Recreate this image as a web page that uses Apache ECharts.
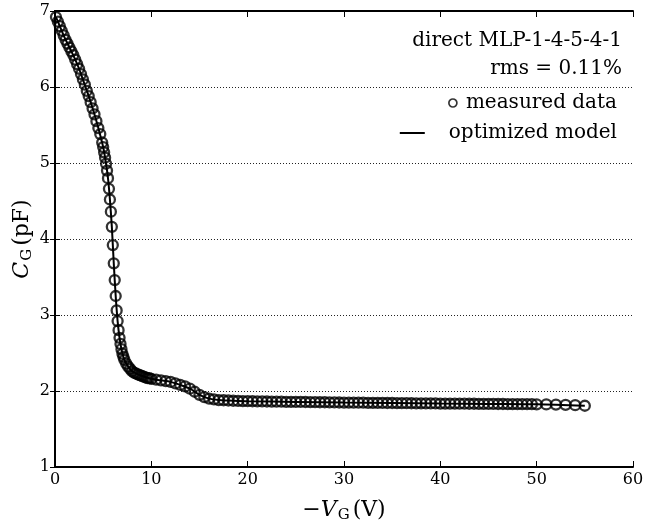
<!DOCTYPE html>
<html>
<head>
<meta charset="utf-8">
<script src="https://cdn.jsdelivr.net/npm/echarts@6/dist/echarts.min.js"></script>
<style>
  html, body { margin: 0; padding: 0; background: #fff; }
  #chart { width: 646px; height: 524px; }
</style>
</head>
<body>
<div id="chart"></div>
<script>
// measured C-V points
const measuredV = [
  0.1, 0.3, 0.5, 0.7, 0.9, 1.1, 1.3, 1.5, 1.7, 1.9, 2.1, 2.3, 2.5, 2.7, 2.9,
  3.1, 3.3, 3.5, 3.7, 3.9, 4.1, 4.3, 4.5, 4.7, 4.9,
  5.0, 5.1, 5.2, 5.3, 5.4, 5.5, 5.6, 5.7, 5.8, 5.9, 6.0, 6.1, 6.2, 6.3, 6.4,
  6.5, 6.6, 6.7, 6.8, 6.9, 7.0, 7.1, 7.2, 7.4, 7.6, 7.8, 8.0, 8.2, 8.4, 8.6,
  8.8, 9.0, 9.2, 9.4, 9.6, 9.8,
  10, 10.5, 11, 11.5, 12, 12.5, 13, 13.5, 14, 14.5, 15, 15.5, 16, 16.5, 17,
  17.5, 18, 18.5, 19, 19.5, 20, 20.5, 21, 21.5, 22, 22.5, 23, 23.5, 24, 24.5,
  25, 25.5, 26, 26.5, 27, 27.5, 28, 28.5, 29, 29.5, 30, 30.5, 31, 31.5, 32,
  32.5, 33, 33.5, 34, 34.5, 35, 35.5, 36, 36.5, 37, 37.5, 38, 38.5, 39, 39.5,
  40, 40.5, 41, 41.5, 42, 42.5, 43, 43.5, 44, 44.5, 45, 45.5, 46, 46.5, 47,
  47.5, 48, 48.5, 49, 49.5, 50,
  51, 52, 53, 54, 55
];
const measuredC = [
  6.92, 6.86, 6.80, 6.74, 6.68, 6.62, 6.57, 6.52, 6.47, 6.42, 6.36, 6.30, 6.24, 6.17, 6.10,
  6.03, 5.95, 5.88, 5.80, 5.72, 5.64, 5.55, 5.46, 5.38, 5.27,
  5.21, 5.14, 5.07, 4.99, 4.90, 4.80, 4.66, 4.52, 4.36, 4.16, 3.92, 3.68, 3.46, 3.25, 3.06,
  2.92, 2.80, 2.70, 2.62, 2.55, 2.49, 2.45, 2.41, 2.36, 2.32, 2.29, 2.26, 2.24, 2.23, 2.22,
  2.21, 2.20, 2.19, 2.18, 2.17, 2.17,
  2.16, 2.15, 2.14, 2.13, 2.12, 2.10, 2.08, 2.06, 2.03, 1.99, 1.95, 1.92, 1.90, 1.89, 1.88,
  1.878, 1.875, 1.872, 1.870, 1.868, 1.866, 1.865, 1.864, 1.863, 1.862, 1.861, 1.860, 1.859, 1.858, 1.857,
  1.856, 1.856, 1.855, 1.854, 1.853, 1.852, 1.852, 1.851, 1.850, 1.849, 1.848, 1.848, 1.847, 1.846, 1.846,
  1.845, 1.844, 1.844, 1.843, 1.842, 1.842, 1.841, 1.840, 1.840, 1.839, 1.838, 1.838, 1.837, 1.837, 1.836,
  1.835, 1.835, 1.834, 1.834, 1.833, 1.833, 1.832, 1.832, 1.831, 1.831, 1.830, 1.830, 1.829, 1.829, 1.828,
  1.828, 1.827, 1.827, 1.826, 1.826, 1.825,
  1.823, 1.821, 1.818, 1.814, 1.806
];

// optimized model curve
const modelV = [0.1, 0.5, 1, 1.5, 2, 2.5, 3, 3.5, 4, 4.5, 5, 5.3, 5.5, 5.7, 5.9, 6.1, 6.3, 6.5,
  6.7, 6.9, 7.2, 7.6, 8, 9, 10, 11, 12, 13, 14, 15, 16, 17, 18, 20, 25, 30, 35, 40, 45, 50, 55];
const modelC = [6.92, 6.80, 6.65, 6.52, 6.39, 6.24, 6.06, 5.88, 5.68, 5.46, 5.21, 4.99, 4.80, 4.52,
  4.16, 3.68, 3.25, 2.92, 2.70, 2.55, 2.41, 2.32, 2.26, 2.20, 2.16, 2.14, 2.12, 2.08, 2.03, 1.95,
  1.90, 1.88, 1.875, 1.866, 1.856, 1.848, 1.842, 1.835, 1.830, 1.825, 1.806];

const xTicks = { min: 0, max: 60, step: 10 };
const yTicks = { min: 1, max: 7, step: 1 };

const seriesNames = ['measured data', 'optimized model'];
const infoText = ['direct MLP-1-4-5-4-1', 'rms = 0.11%'];

const FONT = '"DejaVu Serif", "Liberation Serif", serif';
const INK = '#000';

const zip = (xs, ys) => xs.map((x, i) => [x, ys[i]]);

const nameRich = {
  i: { fontFamily: FONT, fontSize: 22, fontStyle: 'italic', color: INK },
  s: { fontFamily: FONT, fontSize: 15, color: INK, padding: [11, 3, 0, 1] },
  n: { fontFamily: FONT, fontSize: 22, color: INK }
};

const xAxisBase = {
  type: 'value',
  min: xTicks.min,
  max: xTicks.max,
  interval: xTicks.step,
  axisLine: { show: true, lineStyle: { color: INK, width: 2 } },
  axisTick: { show: true, inside: true, length: 6, lineStyle: { color: INK, width: 1 } },
  splitLine: { show: false }
};

const yAxisBase = {
  type: 'value',
  min: yTicks.min,
  max: yTicks.max,
  interval: yTicks.step,
  axisLine: { show: true, lineStyle: { color: INK, width: 2 } },
  axisTick: { show: true, inside: true, length: 5, lineStyle: { color: INK, width: 1 } }
};

const legendText = { fontFamily: FONT, fontSize: 20, color: INK };

const chart = echarts.init(document.getElementById('chart'), null, { renderer: 'canvas' });

chart.setOption({
  backgroundColor: '#fff',
  animation: false,
  grid: { left: 55, right: 13, top: 11, bottom: 57, outerBoundsMode: 'none', containLabel: false },
  xAxis: [
    Object.assign({}, xAxisBase, {
      position: 'bottom',
      axisLabel: { color: INK, fontFamily: FONT, fontSize: 16, margin: 5 },
      name: '{n|\u2212}{i|V}{s|G}{n|(V)}',
      nameLocation: 'middle',
      nameGap: 30,
      nameTextStyle: { rich: nameRich }
    }),
    Object.assign({}, xAxisBase, {
      position: 'top',
      axisLabel: { show: false }
    })
  ],
  yAxis: [
    Object.assign({}, yAxisBase, {
      position: 'left',
      axisLabel: { color: INK, fontFamily: FONT, fontSize: 16, margin: 5 },
      splitLine: { show: true, lineStyle: { color: '#222', width: 1, type: [1, 2] } },
      name: '{i|C}{s|G}{n|(pF)}',
      nameLocation: 'middle',
      nameRotate: 90,
      nameGap: 20,
      nameMoveOverlap: false,
      nameTextStyle: { rich: nameRich }
    }),
    Object.assign({}, yAxisBase, {
      position: 'right',
      axisLabel: { show: false },
      splitLine: { show: false }
    })
  ],
  legend: [
    {
      right: 24,
      top: 88,
      itemWidth: 8,
      itemHeight: 8,
      textStyle: Object.assign({ padding: [0, 0, 0, 4] }, legendText),
      data: [{ name: seriesNames[0], icon: 'circle',
        itemStyle: { color: 'transparent', borderColor: INK, borderWidth: 1.7 } }]
    },
    {
      right: 24,
      top: 118,
      itemWidth: 25,
      itemHeight: 10,
      symbolKeepAspect: true,
      textStyle: Object.assign({ padding: [0, 0, 0, 19] }, legendText),
      data: [{ name: seriesNames[1], icon: 'path://M0,0L25,0L25,2L0,2Z',
        itemStyle: { color: INK } }]
    }
  ],
  graphic: [
    {
      type: 'text',
      right: 24,
      top: 31,
      style: { text: infoText[0], font: '20px ' + FONT, fill: INK }
    },
    {
      type: 'text',
      right: 24,
      top: 59,
      style: { text: infoText[1], font: '20px ' + FONT, fill: INK }
    }
  ],
  series: [
    {
      name: seriesNames[1],
      type: 'line',
      data: zip(modelV, modelC),
      smooth: 0.3,
      showSymbol: false,
      symbol: 'none',
      lineStyle: { color: INK, width: 2 },
      itemStyle: { color: INK },
      z: 2
    },
    {
      name: seriesNames[0],
      type: 'scatter',
      data: zip(measuredV, measuredC),
      symbol: 'circle',
      symbolSize: 10,
      itemStyle: { color: 'transparent', borderColor: INK, borderWidth: 2.3 },
      z: 3
    }
  ]
});
</script>
</body>
</html>
